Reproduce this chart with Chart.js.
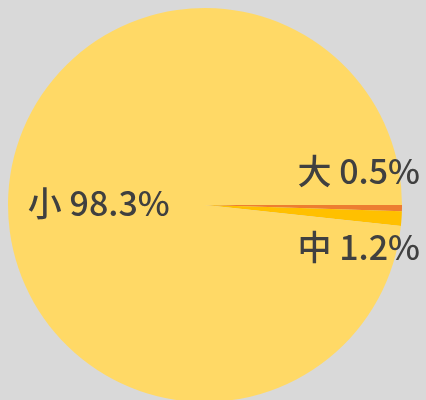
<!DOCTYPE html>
<html>
<head>
<meta charset="utf-8">
<script src="https://cdn.jsdelivr.net/npm/chart.js@4"></script>
<style>
  html, body { margin: 0; padding: 0; background: #d9d9d9; overflow: hidden; }
  #wrap { width: 426px; height: 402px; position: relative; }
</style>
</head>
<body>
<div id="wrap"><canvas id="pieChart"></canvas></div>
<script>
  const categories = ["大", "中", "小"];
  const shares = [0.5, 1.2, 98.3];
  const sliceColors = ["#ED7D31", "#FFC000", "#FFD966"];

  // labels drawn on top of the slices (no datalabels plugin offline)
  const sliceLabels = {
    id: "sliceLabels",
    afterDatasetsDraw(chart) {
      const ctx = chart.ctx;
      const arcs = chart.getDatasetMeta(0).data;
      ctx.save();
      ctx.font = "500 34px 'Noto Sans CJK SC', 'Noto Sans', sans-serif";
      ctx.fillStyle = "#404040";
      ctx.textBaseline = "middle";
      arcs.forEach((arc, i) => {
        const text = categories[i] + " " + shares[i].toFixed(1) + "%";
        const r = arc.outerRadius;
        if (shares[i] > 50) {
          const mid = (arc.startAngle + arc.endAngle) / 2;
          ctx.textAlign = "center";
          ctx.fillText(text, arc.x + Math.cos(mid) * r * 0.54, arc.y + Math.sin(mid) * r * 0.54 + 4);
        } else {
          // small slices: text sits just above / below the thin wedge, right aligned
          ctx.textAlign = "right";
          const dy = i === 0 ? -34 : 42;
          ctx.fillText(text, arc.x + r + 18, arc.y + dy);
        }
      });
      ctx.restore();
    }
  };

  new Chart(document.getElementById("pieChart"), {
    type: "pie",
    data: {
      labels: categories,
      datasets: [{
        data: shares,
        backgroundColor: sliceColors,
        borderWidth: 0
      }]
    },
    options: {
      responsive: true,
      maintainAspectRatio: false,
      animation: false,
      rotation: 90,
      layout: { padding: { left: 8, right: 24, top: 8, bottom: 0 } },
      plugins: {
        legend: { display: false },
        tooltip: { enabled: false }
      }
    },
    plugins: [sliceLabels]
  });
</script>
</body>
</html>
